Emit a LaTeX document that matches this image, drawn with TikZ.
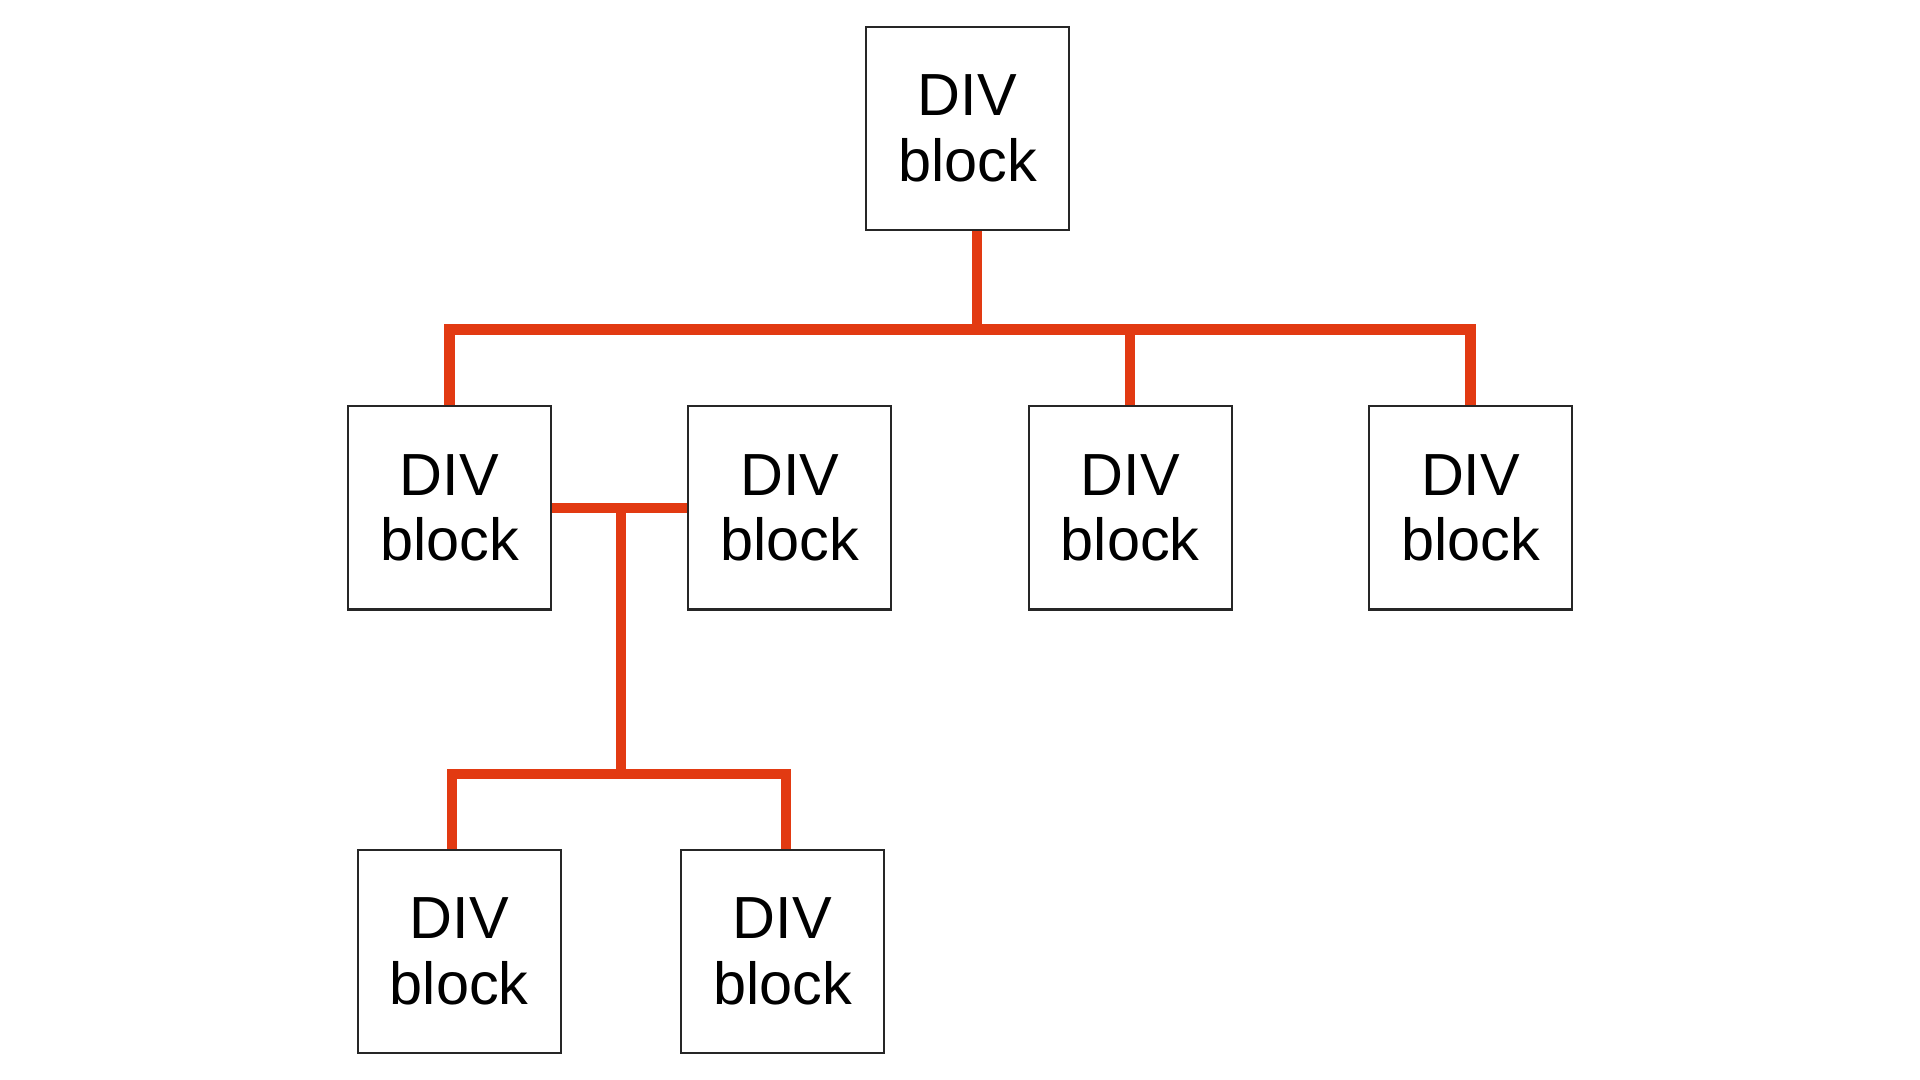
\documentclass[tikz,border=0pt]{standalone}
\usepackage{fontspec}
\setmainfont{Liberation Sans}
\usepackage{tikz}
\usetikzlibrary{positioning}
\usetikzlibrary{calc}

\definecolor{busred}{RGB}{226,58,18}

\begin{document}
\begin{tikzpicture}[x=0.01cm, y=-0.01cm,
    every node/.style={draw=black!85, line width=0.6pt, minimum width=2.03cm, minimum height=2.03cm, inner sep=0pt, align=center, font=\fontsize{16.9}{18.6}\selectfont},
    bus/.style={draw=busred, line width=3pt}]
        % Fix the page size
        \useasboundingbox (0,0) rectangle (1920,1080);

        % Define the row heights
        \def\rowA{128.5}
        \def\rowB{508}
        \def\rowC{951.5}

        % Draw the top block
        \node (top) at (967.5,\rowA) {DIV\\block};

        % Draw the second row of blocks
        \node (b1) at (449.4,\rowB) {DIV\\block};
        \node (b2) at (789.8,\rowB) {DIV\\block};
        \node (b3) at (1130.2,\rowB) {DIV\\block};
        \node (b4) at (1470.6,\rowB) {DIV\\block};

        % Draw the third row of blocks
        \node (b5) at (459.2,\rowC) {DIV\\block};
        \node (b6) at (782.4,\rowC) {DIV\\block};

        % Junctions of the bus lines
        \coordinate (j0) at (977,329.5);
        \coordinate (j1) at (620.8,774);

        % Top bus
        \draw[bus] (top.south -| j0) -- (j0);
        \draw[bus] (b1.north) |- (j0) -| (b4.north);
        \draw[bus] (j0) -| (b3.north);

        % Link between the first two blocks and the lower bus
        \draw[bus] (b1.east) -- (b2.west);
        \draw[bus] (j1 |- b1.east) -- (j1);
        \draw[bus] ([xshift=-0.074cm]b5.north) |- (j1) -| ([xshift=0.037cm]b6.north);
      \end{tikzpicture}
\end{document}
